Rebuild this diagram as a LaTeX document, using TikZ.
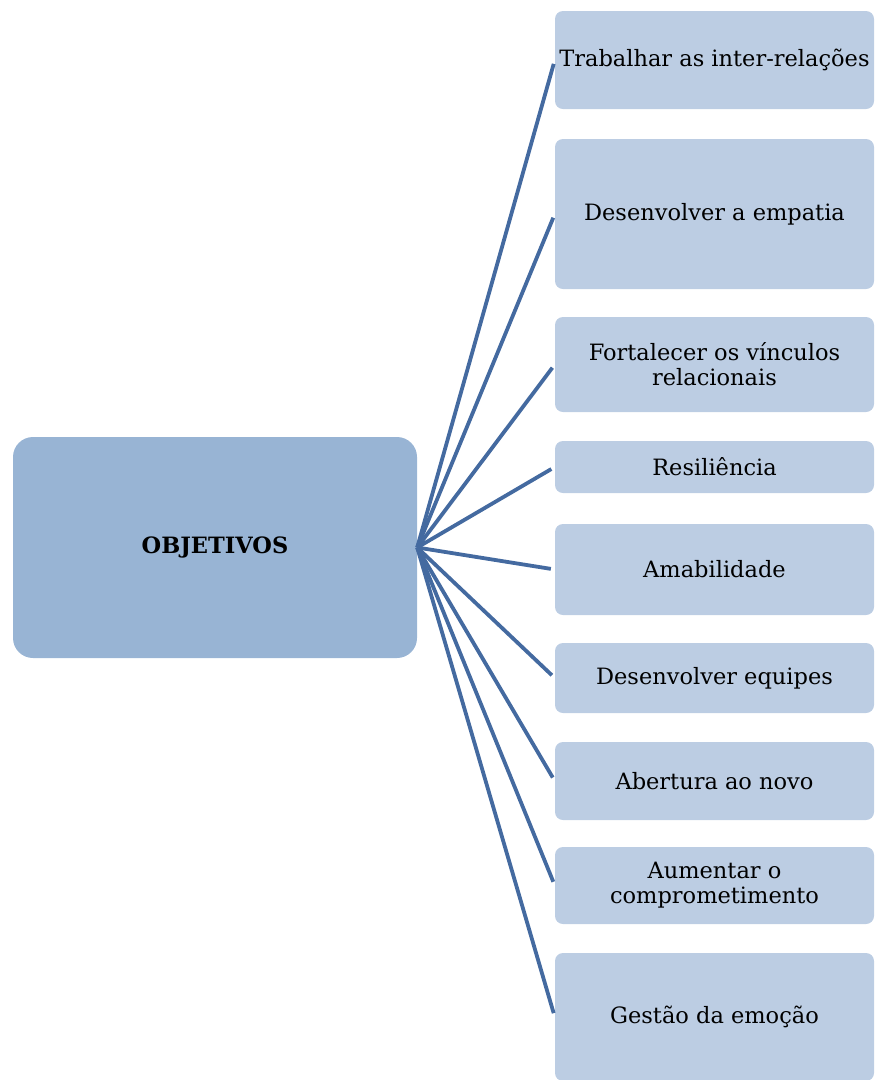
\documentclass[tikz,border=0pt]{standalone}
\usepackage{fontspec}
\setmainfont{DejaVu Serif}
\definecolor{hubfill}{RGB}{152,180,212}
\definecolor{itemfill}{RGB}{188,205,227}
\definecolor{linkblue}{RGB}{68,106,160}
\begin{document}
\begin{tikzpicture}[x=1pt,y=-1pt,
    item/.style={fill=itemfill, rounded corners=8pt, minimum width=319pt,
      align=center, inner sep=0pt, font=\fontsize{22.5}{25}\selectfont},
    link/.style={draw=linkblue, line width=3.8pt, shorten >=4pt}]
  \clip (0,0) rectangle (875,1080);
  % centre
  \node[fill=hubfill, rounded corners=20pt, minimum width=404pt,
    minimum height=221pt, font=\bfseries\fontsize{22.5}{25}\selectfont]
    (obj) at (215,547.5) {OBJETIVOS};
  % right column
  \node[item, minimum height=98pt]  (b1) at (714.5,60)    {Trabalhar as inter-relações};
  \node[item, minimum height=150pt] (b2) at (714.5,214)   {Desenvolver a empatia};
  \node[item, minimum height=95pt]  (b3) at (714.5,364.5) {Fortalecer os vínculos\\relacionais};
  \node[item, minimum height=52pt]  (b4) at (714.5,467)   {Resiliência};
  \node[item, minimum height=91pt]  (b5) at (714.5,569.5) {Amabilidade};
  \node[item, minimum height=70pt]  (b6) at (714.5,678)   {Desenvolver equipes};
  \node[item, minimum height=78pt]  (b7) at (714.5,781)   {Abertura ao novo};
  \node[item, minimum height=77pt]  (b8) at (714.5,885.5) {Aumentar o\\comprometimento};
  \node[item, minimum height=128pt] (b9) at (714.5,1017)  {Gestão da emoção};
  \foreach \n in {1,...,9}
    \draw[link] (obj.east) -- (b\n.west);
\end{tikzpicture}
\end{document}
